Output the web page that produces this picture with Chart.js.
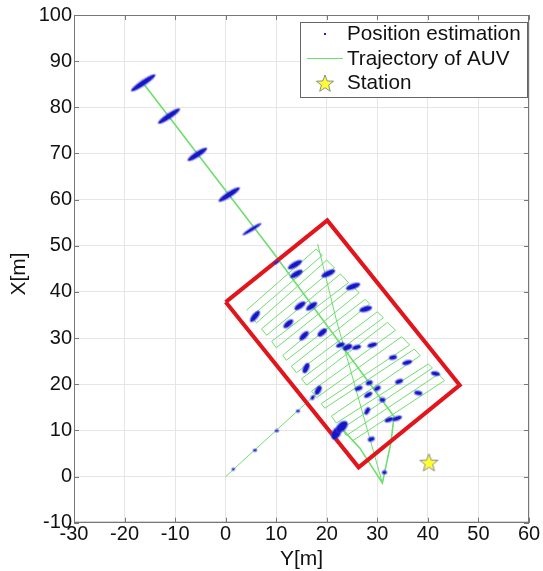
<!DOCTYPE html>
<html>
<head>
<meta charset="utf-8">
<script src="https://cdn.jsdelivr.net/npm/chart.js@4.4.1/dist/chart.umd.min.js"></script>
<style>
  html, body { margin: 0; padding: 0; background: #fff; }
</style>
</head>
<body>
<canvas id="auv" width="543" height="571"></canvas>
<script>
// horizontal axis is Y[m], vertical axis is X[m]
const yTicks = [-30, -20, -10, 0, 10, 20, 30, 40, 50, 60];
const xTicks = [-10, 0, 10, 20, 30, 40, 50, 60, 70, 80, 90, 100];

// survey area boundary
const areaY = [0, 20.1, 46.3, 26.3, 0];
const areaX = [37.8, 55.5, 19.8, 2.0, 37.8];

// station
const stationY = [40.2];
const stationX = [3.1];

// trajectory pieces
const transitY = [0, 18.3];
const transitX = [0, 18.3];
const diagY = [-16.0, 9.1, 33.3, 32.7, 31.0, 26.5, 22.8];
const diagX = [84.8, 49.0, 13.0, 7.4, -1.4, 6.2, 10.6];
const returnY = [18.2, 21.9, 31.0];
const returnX = [50.4, 33.9, -1.4];
const sweepY = [4.1, 17.9, 19.1, 5.1, 6.1, 20.0, 21.5, 7.1, 8.1, 22.7, 24.3, 9.1, 10.0, 25.2, 26.4, 11.3,
                12.0, 27.6, 28.5, 13.0, 14.0, 30.0, 31.2, 15.0, 16.0, 32.0, 33.6, 17.0, 18.0, 34.8, 36.4, 18.9,
                19.6, 37.3, 38.5, 20.9, 21.9, 40.1, 40.9, 22.9, 23.9, 42.1, 43.3, 24.9];
const sweepX = [36.0, 49.3, 47.9, 34.7, 33.3, 46.9, 45.2, 32.0, 30.6, 43.9, 42.0, 29.3, 27.9, 41.2, 39.8, 26.3,
                25.2, 38.4, 37.4, 23.9, 22.5, 35.7, 34.4, 21.2, 19.8, 33.4, 31.7, 18.5, 17.1, 30.3, 28.5, 15.8,
                14.8, 27.6, 26.2, 13.1, 11.6, 24.4, 23.5, 10.3, 8.9, 22.2, 20.8, 7.6];

// position estimation clusters (centres)
const estY = [-16.3, -11.2, -5.6, 0.7, 5.2, 10.0,
              13.7, 14.0, 20.3, 25.2, 27.7, 14.7, 17.0, 5.8, 12.4, 15.5, 19.1,
              22.7, 24.1, 25.9, 29.0, 33.1, 35.9, 15.9, 41.5, 34.3, 28.4, 18.3,
              26.3, 30.0, 28.2, 38.1, 31.0, 17.2, 28.0, 33.9, 32.3, 21.9, 23.0,
              28.8, 31.4, 1.5, 5.8, 10.1, 14.3];
const estX = [85.3, 78.1, 69.8, 61.1, 53.6, 46.4,
              45.9, 43.9, 44.0, 41.2, 36.3, 37.0, 36.9, 34.7, 33.1, 30.5, 31.2,
              28.5, 28.0, 28.0, 28.5, 25.8, 24.7, 23.5, 22.3, 20.6, 20.3, 18.7,
              19.1, 19.1, 17.7, 18.1, 16.6, 17.1, 14.2, 12.6, 12.3, 9.4, 10.8,
              8.1, 0.9, 1.6, 5.7, 9.9, 14.2];

// cluster shape on screen: tilt (deg), length and width (px)
const estTilt = [-34, -34, -33, -33, -32, -30,
                 -30, -30, -25, -20, -15, -35, -35, -50, -40, -45, -40,
                 -20, -25, -15, -15, -10, -15, -65, 10, -20, -20, -60,
                 -20, -30, -30, 10, 0, -60, -60, -20, -20, -60, -45,
                 -20, 0, 0, 0, 0, 0];
const estLen = [29, 26, 23, 25, 22, 6,
                16, 14, 15, 15, 13, 13, 13, 14, 12, 12, 11,
                9, 10, 9, 10, 8, 10, 11, 9, 8, 7, 10,
                8, 7, 9, 8, 6, 5, 8, 10, 9, 14, 14,
                7, 5, 3, 4, 4, 4];
const estWid = [6, 6, 6, 6, 4, 3,
                6, 6, 6, 6, 6, 6, 6, 6, 6, 6, 6,
                5, 6, 5, 5, 5, 5, 6, 5, 5, 5, 6,
                5, 5, 5, 5, 5, 4, 5, 5, 5, 9, 9,
                5, 4, 3, 3, 3, 3];

const pts = (h, v) => h.map((val, i) => ({ x: val, y: v[i] }));

function blob(len, wid) {
  const c = document.createElement('canvas');
  c.width = len + 2;
  c.height = wid + 2;
  const g = c.getContext('2d');
  g.fillStyle = 'rgba(60,60,230,0.55)';
  g.beginPath();
  g.ellipse(c.width / 2, c.height / 2, len / 2 + 0.5, wid / 2 + 0.5, 0, 0, Math.PI * 2);
  g.fill();
  g.fillStyle = '#1616c4';
  g.beginPath();
  g.ellipse(c.width / 2, c.height / 2, Math.max(len / 2 - 0.5, 1), Math.max(wid / 2 - 0.8, 0.8), 0, 0, Math.PI * 2);
  g.fill();
  return c;
}
const blobs = estLen.map((l, i) => blob(l, estWid[i]));

function starImage(r) {
  const c = document.createElement('canvas');
  c.width = c.height = Math.ceil(r * 2 + 4);
  const g = c.getContext('2d');
  const cx = c.width / 2, cy = c.height / 2 + 1;
  g.beginPath();
  for (let k = 0; k < 10; k++) {
    const rr = k % 2 ? r * 0.42 : r;
    const a = -Math.PI / 2 + k * Math.PI / 5;
    g.lineTo(cx + rr * Math.cos(a), cy + rr * Math.sin(a));
  }
  g.closePath();
  g.fillStyle = '#ffff30';
  g.fill();
  g.strokeStyle = '#6f6f8f';
  g.lineWidth = 0.8;
  g.stroke();
  return c;
}
const starImg = starImage(9.5);
const starSmall = starImage(9);

const green = 'rgb(110,222,110)';
const lineSet = (h, v, w) => ({
  data: pts(h, v), showLine: true, borderColor: green, borderWidth: w,
  pointRadius: 0, fill: false, tension: 0
});

const fontFamily = '"Liberation Sans", Arial, sans-serif';
const font = { family: fontFamily, size: 20 };

// MATLAB style box, inward ticks, vertical axis title and legend
const frame = {
  id: 'frame',
  afterDraw(chart) {
    const { ctx, chartArea: a, scales } = chart;
    ctx.save();
    ctx.strokeStyle = '#777';
    ctx.lineWidth = 1;
    ctx.strokeRect(a.left + 0.5, a.top + 0.5, a.right - a.left - 1, a.bottom - a.top - 1);
    ctx.beginPath();
    yTicks.forEach(v => {
      const p = Math.round(scales.x.getPixelForValue(v)) + 0.5;
      ctx.moveTo(p, a.bottom); ctx.lineTo(p, a.bottom - 5);
      ctx.moveTo(p, a.top); ctx.lineTo(p, a.top + 5);
    });
    xTicks.forEach(v => {
      const p = Math.round(scales.y.getPixelForValue(v)) + 0.5;
      ctx.moveTo(a.left, p); ctx.lineTo(a.left + 5, p);
      ctx.moveTo(a.right, p); ctx.lineTo(a.right - 5, p);
    });
    ctx.stroke();

    // vertical axis title
    ctx.fillStyle = '#111';
    ctx.font = '21px ' + fontFamily;
    ctx.textAlign = 'center';
    ctx.textBaseline = 'middle';
    ctx.translate(19, 274);
    ctx.rotate(-Math.PI / 2);
    ctx.fillText('X[m]', 0, 0);
    ctx.setTransform(1, 0, 0, 1, 0, 0);

    // legend
    const bx = 300, by = 22, bw = 227, bh = 75;
    ctx.fillStyle = '#fff';
    ctx.fillRect(bx, by, bw, bh);
    ctx.strokeStyle = '#666';
    ctx.strokeRect(bx + 0.5, by + 0.5, bw, bh);
    ctx.fillStyle = '#2020c0';
    ctx.fillRect(324, 33, 2, 2);
    ctx.strokeStyle = green;
    ctx.beginPath();
    ctx.moveTo(307, 58.5); ctx.lineTo(343, 58.5);
    ctx.stroke();
    ctx.drawImage(starSmall, 325 - starSmall.width / 2, 83 - starSmall.height / 2);
    ctx.fillStyle = '#111';
    ctx.font = '20.7px ' + fontFamily;
    ctx.textAlign = 'left';
    ctx.textBaseline = 'middle';
    ctx.fillText('Position estimation', 347, 34);
    ctx.fillText('Trajectory of AUV', 347, 59);
    ctx.fillText('Station', 347, 83);
    ctx.restore();
  }
};

new Chart(document.getElementById('auv'), {
  type: 'scatter',
  data: {
    datasets: [
      {
        label: 'Position estimation',
        data: pts(estY, estX),
        pointStyle: c => blobs[c.dataIndex],
        rotation: c => estTilt[c.dataIndex],
        pointRadius: 3
      },
      {
        label: 'Station',
        data: pts(stationY, stationX),
        pointStyle: starImg,
        pointRadius: 10
      },
      {
        label: 'Area',
        data: pts(areaY, areaX),
        showLine: true,
        borderColor: '#e2151d',
        borderWidth: 4,
        borderJoinStyle: 'miter',
        pointRadius: 0
      },
      lineSet(diagY, diagX, 1.6),
      lineSet(returnY, returnX, 1),
      lineSet(transitY, transitX, 1),
      lineSet(sweepY, sweepX, 1)
    ]
  },
  options: {
    responsive: false,
    animation: false,
    layout: { padding: { top: 15, right: 14, left: 0, bottom: 0 } },
    plugins: { legend: { display: false }, tooltip: { enabled: false } },
    scales: {
      x: {
        type: 'linear', min: -30, max: 60,
        afterBuildTicks: s => { s.ticks = yTicks.map(v => ({ value: v })); },
        afterFit: s => { s.height = 48.3; },
        ticks: { font, color: '#111', padding: 0, maxRotation: 0 },
        grid: { color: '#e6e6e6', drawTicks: false },
        border: { color: '#777' },
        title: { display: true, text: 'Y[m]', font: { family: fontFamily, size: 21 }, color: '#111', padding: { top: 0, bottom: -1 } }
      },
      y: {
        type: 'linear', min: -10, max: 100,
        afterBuildTicks: s => { s.ticks = xTicks.map(v => ({ value: v })); },
        afterFit: s => { s.width = 74; },
        ticks: { font, color: '#111', padding: 2 },
        grid: { color: '#e6e6e6', drawTicks: false },
        border: { color: '#777' },
        title: { display: false }
      }
    }
  },
  plugins: [frame]
});
</script>
</body>
</html>
